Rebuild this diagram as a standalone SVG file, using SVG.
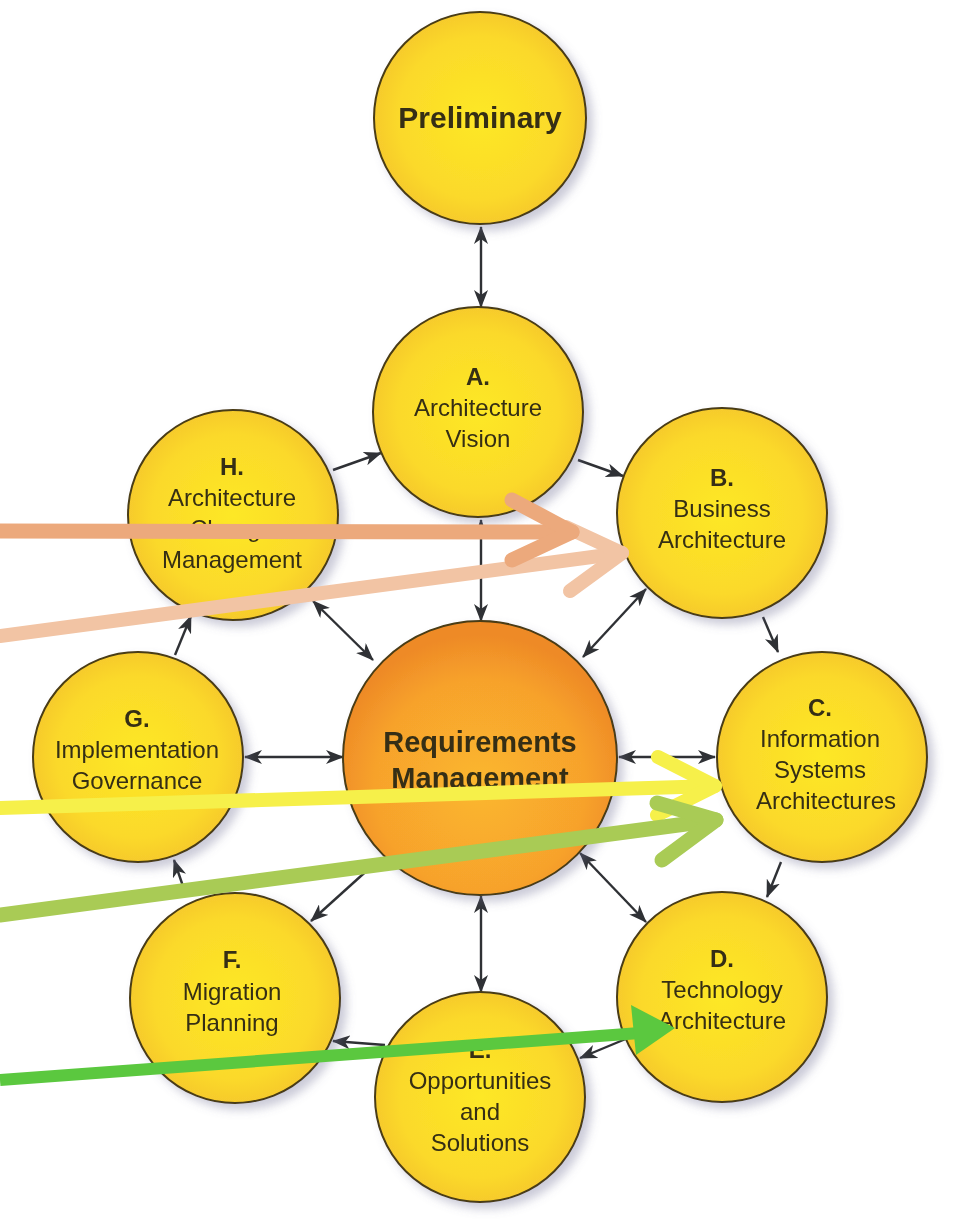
<svg xmlns="http://www.w3.org/2000/svg" width="953" height="1231" viewBox="0 0 953 1231">
<style>
.lbl{font-family:"Liberation Sans",Arial,sans-serif;font-size:24px;fill:#352f12;text-anchor:middle}
.b{font-weight:bold}
.ring{stroke:#4a3c14;stroke-width:2}
.yel{fill:url(#gy)}
.org{fill:url(#go)}
.con{stroke:#2f3135;stroke-width:2.4;fill:none}
.ov{fill:none;stroke-linecap:round;stroke-linejoin:round}
</style>
<defs>
<radialGradient id="gy" cx="0.5" cy="0.5" r="0.55">
<stop offset="0" stop-color="#fde825"/>
<stop offset="0.7" stop-color="#fbd92a"/>
<stop offset="1" stop-color="#f4c42e"/>
</radialGradient>
<radialGradient id="go" cx="0.5" cy="0.6" r="0.55">
<stop offset="0" stop-color="#fbb72e"/>
<stop offset="0.7" stop-color="#f7a22c"/>
<stop offset="1" stop-color="#ee8a26"/>
</radialGradient>
<filter id="sh" x="-20%" y="-20%" width="150%" height="150%">
<feDropShadow dx="6" dy="6" stdDeviation="5" flood-color="#6a6a90" flood-opacity="0.35"/>
</filter>
<marker id="ah" viewBox="0 0 18 14" refX="17" refY="7" markerWidth="18" markerHeight="14" markerUnits="userSpaceOnUse" orient="auto-start-reverse">
<path d="M0,0 L18,7 L0,14 L5,7 z" fill="#2f3135"/>
</marker>
</defs>
<rect width="953" height="1231" fill="#ffffff"/>

<g id="connectors">
<line class="con" x1="481" y1="227" x2="481" y2="307" marker-start="url(#ah)" marker-end="url(#ah)"/>
<line class="con" x1="333" y1="470" x2="381" y2="453" marker-end="url(#ah)"/>
<line class="con" x1="578" y1="460" x2="623" y2="476" marker-end="url(#ah)"/>
<line class="con" x1="763" y1="617" x2="778" y2="652" marker-end="url(#ah)"/>
<line class="con" x1="781" y1="862" x2="767" y2="897" marker-end="url(#ah)"/>
<line class="con" x1="628" y1="1038" x2="580" y2="1058" marker-end="url(#ah)"/>
<line class="con" x1="385" y1="1045" x2="333" y2="1041" marker-end="url(#ah)"/>
<line class="con" x1="186" y1="895" x2="174" y2="860" marker-end="url(#ah)"/>
<line class="con" x1="175" y1="655" x2="191" y2="616" marker-end="url(#ah)"/>
<line class="con" x1="481" y1="520" x2="481" y2="621" marker-start="url(#ah)" marker-end="url(#ah)"/>
<line class="con" x1="583" y1="657" x2="646" y2="589" marker-start="url(#ah)" marker-end="url(#ah)"/>
<line class="con" x1="619" y1="757" x2="715" y2="757" marker-start="url(#ah)" marker-end="url(#ah)"/>
<line class="con" x1="580" y1="853" x2="646" y2="922" marker-start="url(#ah)" marker-end="url(#ah)"/>
<line class="con" x1="481" y1="896" x2="481" y2="992" marker-start="url(#ah)" marker-end="url(#ah)"/>
<line class="con" x1="372" y1="866" x2="311" y2="921" marker-end="url(#ah)"/>
<line class="con" x1="245" y1="757" x2="343" y2="757" marker-start="url(#ah)" marker-end="url(#ah)"/>
<line class="con" x1="373" y1="660" x2="313" y2="601" marker-start="url(#ah)" marker-end="url(#ah)"/>
</g>

<g id="prelim" filter="url(#sh)">
<circle class="ring yel" cx="480" cy="118" r="106"/>
<text class="lbl b" x="480" y="128" style="font-size:30px">Preliminary</text>
</g>
<g id="phaseA" filter="url(#sh)">
<circle class="ring yel" cx="478" cy="412" r="105"/>
<text class="lbl b" x="478" y="385">A.</text>
<text class="lbl" x="478" y="416">Architecture</text>
<text class="lbl" x="478" y="447">Vision</text>
</g>
<g id="phaseB" filter="url(#sh)">
<circle class="ring yel" cx="722" cy="513" r="105"/>
<text class="lbl b" x="722" y="486">B.</text>
<text class="lbl" x="722" y="517">Business</text>
<text class="lbl" x="722" y="548">Architecture</text>
</g>
<g id="phaseC" filter="url(#sh)">
<circle class="ring yel" cx="822" cy="757" r="105"/>
<text class="lbl b" x="820" y="716">C.</text>
<text class="lbl" x="820" y="747">Information</text>
<text class="lbl" x="820" y="778">Systems</text>
<text class="lbl" x="826" y="809">Architectures</text>
</g>
<g id="phaseD" filter="url(#sh)">
<circle class="ring yel" cx="722" cy="997" r="105"/>
<text class="lbl b" x="722" y="967">D.</text>
<text class="lbl" x="722" y="998">Technology</text>
<text class="lbl" x="722" y="1029">Architecture</text>
</g>
<g id="phaseE" filter="url(#sh)">
<circle class="ring yel" cx="480" cy="1097" r="105"/>
<text class="lbl b" x="480" y="1058">E.</text>
<text class="lbl" x="480" y="1089">Opportunities</text>
<text class="lbl" x="480" y="1120">and</text>
<text class="lbl" x="480" y="1151">Solutions</text>
</g>
<g id="phaseF" filter="url(#sh)">
<circle class="ring yel" cx="235" cy="998" r="105"/>
<text class="lbl b" x="232" y="968">F.</text>
<text class="lbl" x="232" y="1000">Migration</text>
<text class="lbl" x="232" y="1031">Planning</text>
</g>
<g id="phaseG" filter="url(#sh)">
<circle class="ring yel" cx="138" cy="757" r="105"/>
<text class="lbl b" x="137" y="727">G.</text>
<text class="lbl" x="137" y="758">Implementation</text>
<text class="lbl" x="137" y="789">Governance</text>
</g>
<g id="phaseH" filter="url(#sh)">
<circle class="ring yel" cx="233" cy="515" r="105"/>
<text class="lbl b" x="232" y="475">H.</text>
<text class="lbl" x="232" y="506">Architecture</text>
<text class="lbl" x="232" y="537">Change</text>
<text class="lbl" x="232" y="568">Management</text>
</g>
<g id="reqmgmt" filter="url(#sh)">
<circle class="ring org" cx="480" cy="758" r="137"/>
<text class="lbl b" x="480" y="752" style="font-size:29px">Requirements</text>
<text class="lbl b" x="480" y="788" style="font-size:29px">Management</text>
</g>

<g id="overlay-arrows">
<g stroke="#f2c4a4" stroke-width="14" class="ov">
<path d="M0,636 L622,553"/>
<path d="M566,527 L622,553 L570,591"/>
</g>
<g stroke="#eca97c" stroke-width="15" class="ov">
<path d="M0,531 L572,532"/>
<path d="M512,500 L572,532 L512,560"/>
</g>
<g stroke="#f6f04a" stroke-width="14" class="ov">
<path d="M0,808 L715,786"/>
<path d="M658,757 L715,786 L657,815"/>
</g>
<g stroke="#a9cb55" stroke-width="15" class="ov">
<path d="M0,915 L716,820"/>
<path d="M657,803 L716,820 L662,860"/>
</g>
<g>
<path d="M0,1080 L640,1033" stroke="#5bc83f" stroke-width="12" fill="none"/>
<path d="M675,1028 L631,1005 L636,1055 z" fill="#5bc83f"/>
</g>
</g>
</svg>
